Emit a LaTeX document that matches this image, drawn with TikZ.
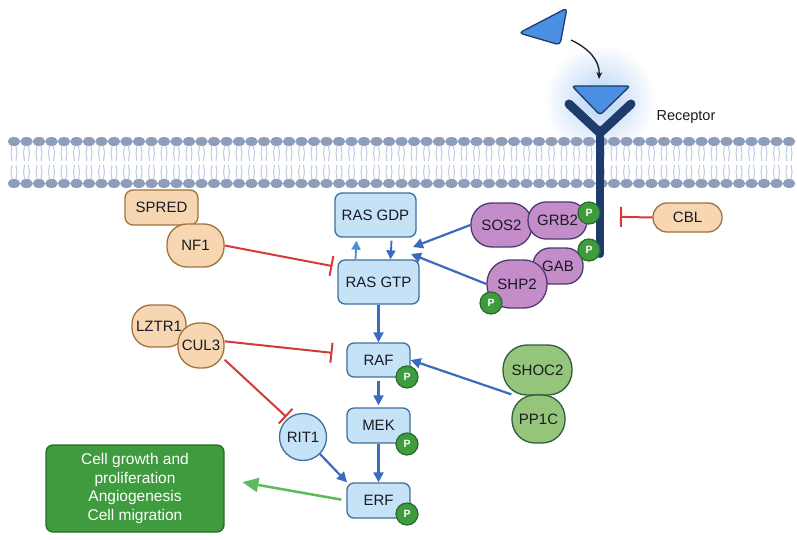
\documentclass[tikz,border=0pt]{standalone}
\usepackage{fontspec}
\setmainfont{Liberation Sans}
\usetikzlibrary{arrows.meta}
\usetikzlibrary{calc}
\definecolor{rasfill}{HTML}{C5E2F6}
\definecolor{rasdraw}{HTML}{3E6F9E}
\definecolor{grbfill}{HTML}{C48DCA}
\definecolor{grbdraw}{HTML}{4B3B6E}
\definecolor{tanfill}{HTML}{F6D7B2}
\definecolor{tandraw}{HTML}{A0723F}
\definecolor{shocfill}{HTML}{94C57B}
\definecolor{shocdraw}{HTML}{2E5E3E}
\definecolor{pfill}{HTML}{3E9B3E}
\definecolor{pdraw}{HTML}{2A6A2A}
\definecolor{inhred}{HTML}{D33B3B}
\definecolor{arrblue}{HTML}{3A6BBF}
\definecolor{lightarr}{HTML}{4A90D9}
\definecolor{outgreen}{HTML}{5DBB5D}
\definecolor{navy}{HTML}{1D3C6C}
\definecolor{ligfill}{HTML}{4A8FE2}
\definecolor{headc}{HTML}{8E9EBA}
\definecolor{tailc}{HTML}{BFCBE0}
\definecolor{glowc}{HTML}{B5D1F5}
\definecolor{ink}{HTML}{1A1A24}

\begin{document}
\begin{tikzpicture}[x=1pt,y=-1pt,
  box/.style={rectangle,line width=1.3pt,inner sep=0pt,text=ink,font=\fontsize{15}{17}\selectfont},
  ras/.style={box,draw=rasdraw,fill=rasfill,rounded corners=7pt},
  tan/.style={box,draw=tandraw,fill=tanfill},
  grb/.style={box,draw=grbdraw,fill=grbfill},
  shoc/.style={box,draw=shocdraw,fill=shocfill},
  phos/.style={circle,draw=pdraw,fill=pfill,line width=1.2pt,minimum size=22pt,inner sep=0pt,text=white,font=\fontsize{10.5}{10.5}\selectfont\bfseries},
  act/.style={draw=arrblue,line width=2.2pt,-{Triangle[length=10pt,width=10pt]}},
  inh/.style={draw=inhred,line width=2pt,-{Bar[width=20pt]}}]
\useasboundingbox (0,0) rectangle (797,540);
\fill[white] (0,0) rectangle (797,540);

\shade[inner color=glowc,outer color=white] (600,100) circle (56);
\foreach \hx in {14,26.5,...,790}{
\draw[tailc,line width=1pt] (\hx-2,146) -- (\hx-3,153) -- (\hx-2,161) (\hx+2,146) -- (\hx+3,153) -- (\hx+2,161);
\draw[tailc,line width=1pt] (\hx-2,179) -- (\hx-3,172) -- (\hx-2,165) (\hx+2,179) -- (\hx+3,172) -- (\hx+2,165);
\fill[headc] (\hx,141.5) ellipse (6.3 and 4.5);
\fill[headc] (\hx,183.5) ellipse (6.3 and 4.5);
}

\draw[navy,line width=9pt,line cap=round,line join=round] (569,104) -- (600,133) -- (631,104);
\draw[navy,line width=8pt,line cap=round] (600,130) -- (600,254);
\draw[fill=ligfill,draw=navy,line width=1.3pt,rounded corners=3pt] (572,86) -- (630,86) -- (600,115) -- cycle;
\draw[fill=ligfill,draw=navy,line width=1.3pt,rounded corners=4pt] (567,8) -- (519,33) -- (560,45) -- cycle;
\coordinate (lig) at (571,40);
\coordinate (site) at (599,79);
\draw[ink,line width=1.3pt,-{Stealth[length=7pt,width=6pt]}] (lig) .. controls (588,48) and (600,60) .. (site);
\node[font=\fontsize{14.5}{16}\selectfont,text=ink,anchor=west] (rlabel) at (653,117) {Receptor};

\node[ras,minimum width=81pt,minimum height=44pt] (rasgdp) at (375.5,215) {RAS GDP};
\node[ras,minimum width=81pt,minimum height=44pt] (rasgtp) at (378.5,282) {RAS GTP};
\node[ras,minimum width=63pt,minimum height=34pt] (raf) at (378.5,360) {RAF};
\node[ras,minimum width=63pt,minimum height=35pt] (mek) at (378.5,425.5) {MEK};
\node[ras,minimum width=63pt,minimum height=35pt] (erf) at (378.5,500.5) {ERF};
\node[ras,circle,minimum size=47pt] (rit1) at (303,437) {RIT1};

\node[tan,minimum width=73pt,minimum height=35pt,rounded corners=8pt] (spred) at (161.5,207.5) {SPRED};
\node[tan,minimum width=57pt,minimum height=43pt,rounded corners=20pt] (nf1) at (195.5,245.5) {NF1};
\node[tan,minimum width=54pt,minimum height=42pt,rounded corners=19pt] (lztr1) at (159,326) {LZTR1};
\node[tan,minimum width=46pt,minimum height=45pt,rounded corners=21pt] (cul3) at (201,345.5) {CUL3};
\node[tan,minimum width=69pt,minimum height=29pt,rounded corners=14pt] (cbl) at (687.5,217.5) {CBL};

\node[grb,minimum width=61pt,minimum height=44pt,rounded corners=21pt] (sos2) at (501.5,225) {SOS2};
\node[grb,minimum width=59pt,minimum height=37pt,rounded corners=18pt] (grb2) at (557.5,220.5) {GRB2};
\node[grb,minimum width=50pt,minimum height=36pt,rounded corners=17pt] (gab) at (558,266) {GAB};
\node[grb,minimum width=60pt,minimum height=48pt,rounded corners=23pt] (shp2) at (517,284) {SHP2};

\node[shoc,minimum width=69pt,minimum height=50pt,rounded corners=24pt] (shoc2) at (537.5,370) {SHOC2};
\node[shoc,minimum width=53pt,minimum height=48pt,rounded corners=23pt] (pp1c) at (538.5,419) {PP1C};

\node[phos] (praf) at (407,377) {P};
\node[phos] (pmek) at (407,444) {P};
\node[phos] (perf) at (407,514) {P};
\node[phos] (pgrb2) at (589,213) {P};
\node[phos] (prec) at (589,250) {P};
\node[phos] (pshp2) at (491,303) {P};

\node[rectangle,rounded corners=7pt,fill=pfill,draw=pdraw,line width=1.3pt,minimum width=178pt,minimum height=87pt,text=white,align=center,font=\fontsize{15.5}{18.5}\selectfont] (out) at (135,488.5) {Cell growth and\\proliferation\\Angiogenesis\\Cell migration};

\coordinate (rastop) at (413,247);
\coordinate (rasbot) at (411,254);
\coordinate (stem) at (600,216.5);
\draw[act] (rasgtp.south) -- (raf.north);
\draw[act,shorten <=3pt,shorten >=2pt] (raf.south) -- (mek.north);
\draw[act] (mek.south) -- (erf.north);
\draw[act] (rit1.-45) -- (erf.150);
\draw[act] (sos2.west) -- (rastop);
\draw[act] (shp2.west) -- (rasbot);
\draw[act] (pp1c.north west) -- (raf.east);
\draw[act,line width=1.8pt,-{Triangle[length=9pt,width=9pt]}] ($(rasgdp.south)+(16,3)$) -- ($(rasgtp.north)+(12,0)$);
\draw[act,draw=lightarr,line width=1.8pt,-{Triangle[length=9pt,width=9pt]}] ($(rasgtp.north)+(-23,0)$) -- ($(rasgdp.south)+(-19,3)$);

\draw[inh,shorten >=5pt] (nf1.east) -- (rasgtp.160);
\draw[inh,shorten >=14pt] (cul3.10) -- (raf.170);
\draw[inh,shorten >=2pt] (cul3.-31) -- (rit1.129);
\draw[inh,shorten >=20pt] (cbl.west) -- (stem);

\draw[draw=outgreen,line width=2.5pt,-{Triangle[length=16pt,width=14pt]},shorten <=5pt,shorten >=18pt] (erf.west) -- (out.6);

\end{tikzpicture}
\end{document}
